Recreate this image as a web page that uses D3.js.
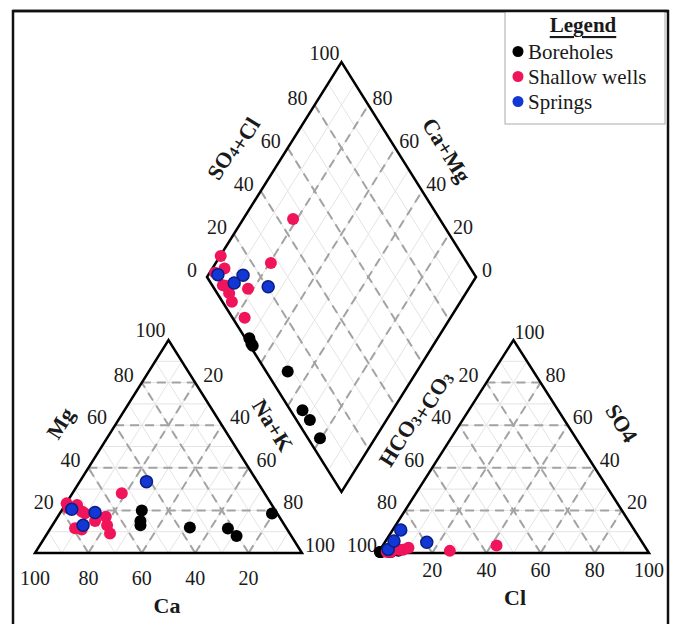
<!DOCTYPE html>
<html>
<head>
<meta charset="utf-8">
<script src="https://cdn.jsdelivr.net/npm/d3@7"></script>
<style>
body { margin: 0; background: #fff; }
svg { display: block; }
text { font-family: "Liberation Serif", "Times New Roman", serif; fill: #1a1a1a; }
</style>
</head>
<body>
<svg id="piper"></svg>
<script>
// groups and colours
var groups = ["Boreholes", "Shallow wells", "Springs"];
var colors = ["#000000", "#f0145a", "#1237d3"];

// cations (% meq)
var boreholesCa  = [50, 53, 54, 36, 22, 20.5, 2];
var boreholesMg  = [20, 15, 13, 12, 11.5, 8, 18.5];
var boreholesNaK = [30, 32, 33, 52, 66.5, 71.5, 79.5];
// anions (% meq)
var boreholesSO4 = [0.5, 0.5, 0.5, 1, 0.5, 0.5, 0.5];
var boreholesCl  = [1, 0.5, 0.5, 7, 4, 4.5, 4];

var shallowCa  = [76.5, 77, 73, 72.7, 72, 79.2, 77, 70, 65, 53.5, 66.5, 67.3];
var shallowMg  = [23.3, 21, 22.5, 19.5, 18.6, 11.6, 11, 15, 17, 28, 13, 9.2];
var shallowNaK = [0.2, 2, 4.5, 7.8, 9.4, 9.2, 12, 15, 18, 18.5, 20.5, 23.5];
var shallowSO4 = [1.5, 1, 1.5, 1, 1, 0.5, 1, 0.5, 2.5, 3.5, 1, 1];
var shallowCl  = [8.5, 3, 7, 3, 4, 4.5, 3.5, 3, 10, 42, 26, 3.5];

var springsCa  = [41.5, 76, 68, 75.5];
var springsMg  = [33.5, 20.5, 19, 13];
var springsNaK = [25, 3.5, 13, 11.5];
var springsSO4 = [5, 1.7, 10.8, 5.6];
var springsCl  = [15.5, 2.9, 3, 3.1];

var sideTicks = [20, 40, 60, 80, 100];
var caTicks = [100, 80, 60, 40, 20];
var clTicks = [20, 40, 60, 80, 100];
var diamondLeftTicks = [0, 20, 40, 60, 80, 100];
var diamondRightTicks = [0, 20, 40, 60, 80];

(function(fn) {
    if (document.readyState !== 'loading') {
        fn();
    } else {
        document.addEventListener('DOMContentLoaded', fn);
    }
})(function() {
    var WIDTH = 676;
    var HEIGHT = 624;

    var svg = d3.select("#piper")
        .attr("width", WIDTH)
        .attr("height", HEIGHT);

    // build the sample table from the arrays
    var samples = [];
    var src = [
        [boreholesCa, boreholesMg, boreholesNaK, boreholesSO4, boreholesCl],
        [shallowCa, shallowMg, shallowNaK, shallowSO4, shallowCl],
        [springsCa, springsMg, springsNaK, springsSO4, springsCl]
    ];
    src.forEach(function(s, g) {
        for (var i = 0; i < s[0].length; i++) {
            samples.push({
                group: g,
                ca: s[0][i], mg: s[1][i], nak: s[2][i],
                so4: s[3][i], cl: s[4][i], hco3: 100 - s[3][i] - s[4][i]
            });
        }
    });

    // scales
    var catX = d3.scaleLinear().domain([0, 100]).range([35, 302]);
    var catY = d3.scaleLinear().domain([0, 100]).range([553, 340]);
    var anX = d3.scaleLinear().domain([0, 100]).range([378, 649]);
    var anY = d3.scaleLinear().domain([0, 100]).range([553, 340]);
    var dX = d3.scaleLinear().domain([0, 200]).range([207, 476]);
    var dY = d3.scaleLinear().domain([-100, 100]).range([62, 492]);

    function catPt(mg, nak) { return [catX(nak + mg / 2), catY(mg)]; }
    function anPt(so4, cl) { return [anX(cl + so4 / 2), anY(so4)]; }
    function dPt(nak, sc) { return [dX(nak + sc), dY(nak - sc)]; }

    var line = d3.line();

    // frame
    svg.append("rect")
        .attr("x", 13).attr("y", 11)
        .attr("width", 655).attr("height", 640)
        .attr("fill", "none")
        .attr("stroke", "#111")
        .attr("stroke-width", 2.5);

    function triLines(pt, vals) {
        var out = [];
        vals.forEach(function(v) {
            out.push([pt(v, 0), pt(v, 100 - v)]);
            out.push([pt(0, v), pt(100 - v, v)]);
            out.push([pt(0, 100 - v), pt(100 - v, 0)]);
        });
        return out;
    }
    function diaLines(vals) {
        var out = [];
        vals.forEach(function(v) {
            out.push([dPt(0, v), dPt(100, v)]);
            out.push([dPt(v, 0), dPt(v, 100)]);
        });
        return out;
    }

    var fine = d3.range(10, 100, 10);
    var coarse = [20, 40, 60, 80];
    var g = svg.append("g");

    var fineLines = triLines(catPt, fine).concat(triLines(anPt, fine), diaLines(fine));
    g.selectAll("path.fine")
        .data(fineLines)
        .enter()
        .append("path")
        .attr("class", "fine")
        .attr("d", line)
        .attr("stroke", "#e4e4e4")
        .attr("stroke-width", 1)
        .attr("fill", "none");

    var dashLines = triLines(catPt, coarse).concat(triLines(anPt, coarse), diaLines(coarse));
    g.selectAll("path.dash")
        .data(dashLines)
        .enter()
        .append("path")
        .attr("class", "dash")
        .attr("d", line)
        .attr("stroke", "#a3a3a3")
        .attr("stroke-width", 2)
        .attr("stroke-dasharray", "9,6")
        .attr("fill", "none");

    // outlines
    var outlines = [
        [catPt(0, 0), catPt(0, 100), catPt(100, 0)],
        [anPt(0, 0), anPt(0, 100), anPt(100, 0)],
        [dPt(0, 0), dPt(100, 0), dPt(100, 100), dPt(0, 100)]
    ];
    g.selectAll("path.outline")
        .data(outlines)
        .enter()
        .append("path")
        .attr("class", "outline")
        .attr("d", function(d) { return line(d) + "Z"; })
        .attr("stroke", "#000")
        .attr("stroke-width", 2.5)
        .attr("stroke-linejoin", "miter")
        .attr("fill", "none");

    // tick labels (under the points, the corner ones get covered)
    var labels = [];
    sideTicks.forEach(function(v) {
        var p = catPt(v, 0);
        labels.push({ t: v, x: p[0] - (v == 100 ? 3 : 8), y: p[1] - (v == 100 ? 10 : 8), a: "end" });
        p = catPt(100 - v, v);
        labels.push({ t: v, x: p[0] + (v == 100 ? 3 : 8), y: p[1] - 8, a: "start" });
        p = anPt(100 - v, 0);
        labels.push({ t: v, x: p[0] - (v == 100 ? 1 : 8), y: p[1] - 8, a: "end" });
        p = anPt(v, 100 - v);
        labels.push({ t: v, x: p[0] + (v == 100 ? 1 : 5), y: p[1] - 8, a: "start" });
    });
    caTicks.forEach(function(v) {
        labels.push({ t: v, x: catX(100 - v), y: 578, a: "middle" });
    });
    clTicks.forEach(function(v) {
        labels.push({ t: v, x: anX(v), y: 570, a: "middle" });
    });
    diamondLeftTicks.forEach(function(v) {
        var p = dPt(0, v);
        var dx = v == 0 ? 10 : (v == 100 ? 2 : 7);
        labels.push({ t: v, x: p[0] - dx, y: p[1] - (v == 100 ? 9 : 7), a: "end" });
    });
    diamondRightTicks.forEach(function(v) {
        var p = dPt(100 - v, 100);
        labels.push({ t: v, x: p[0] + (v == 0 ? 6 : 4), y: p[1] - 7, a: "start" });
    });

    svg.selectAll("text.tick")
        .data(labels)
        .enter()
        .append("text")
        .attr("class", "tick")
        .attr("x", function(d) { return d.x; })
        .attr("y", function(d) { return d.y; })
        .attr("text-anchor", function(d) { return d.a; })
        .attr("dominant-baseline", "central")
        .style("font-size", "20px")
        .text(function(d) { return d.t; });

    // points
    var pg = svg.append("g");
    function drawPoints(cls, pos) {
        pg.selectAll("circle." + cls)
            .data(samples)
            .enter()
            .append("circle")
            .attr("class", cls)
            .attr("cx", function(d) { return pos(d)[0]; })
            .attr("cy", function(d) { return pos(d)[1]; })
            .attr("r", 6)
            .attr("fill", function(d) { return colors[d.group]; })
            .attr("stroke", function(d) { return d.group == 2 ? "#0b1d86" : "none"; })
            .attr("stroke-width", 1.5);
    }
    drawPoints("cat", function(d) { return catPt(d.mg, d.nak); });
    drawPoints("an", function(d) { return anPt(d.so4, d.cl); });
    drawPoints("dia", function(d) { return dPt(d.nak, d.so4 + d.cl); });

    // axis titles
    function title(x, y, rot, parts) {
        var t = svg.append("text")
            .attr("transform", "translate(" + x + "," + y + ") rotate(" + rot + ")")
            .attr("text-anchor", "middle")
            .attr("dominant-baseline", "central")
            .style("font-size", "22px")
            .style("font-weight", "bold");
        parts.forEach(function(p) {
            if (p[1]) {
                t.append("tspan").attr("dy", 5).style("font-size", "15px").text(p[0]);
                t.append("tspan").attr("dy", -5).text("");
            } else {
                t.append("tspan").text(p[0]);
            }
        });
    }
    title(60, 423, -58, [["Mg"]]);
    title(273, 425, 58, [["Na+K"]]);
    title(167, 605, 0, [["Ca"]]);
    title(515, 597, 0, [["Cl"]]);
    title(622, 423, 58, [["SO4"]]);
    title(413, 417, -58, [["HCO"], ["3", true], ["+CO"], ["3", true]]);
    title(231, 147, -58, [["SO"], ["4", true], ["+Cl"]]);
    title(447, 150, 58, [["Ca+Mg"]]);

    // legend
    var lg = svg.append("g");
    lg.append("rect")
        .attr("x", 505).attr("y", 11)
        .attr("width", 160).attr("height", 113)
        .attr("fill", "#fff")
        .attr("stroke", "#aaa")
        .attr("stroke-width", 1);
    lg.append("line")
        .attr("x1", 13).attr("x2", 668)
        .attr("y1", 11).attr("y2", 11)
        .attr("stroke", "#111")
        .attr("stroke-width", 2.5);
    lg.append("text")
        .attr("x", 583).attr("y", 25)
        .attr("text-anchor", "middle")
        .attr("dominant-baseline", "central")
        .style("font-size", "21px")
        .style("font-weight", "bold")
        .style("text-decoration", "underline")
        .text("Legend");
    var items = lg.selectAll("g.item")
        .data(groups)
        .enter()
        .append("g")
        .attr("class", "item")
        .attr("transform", function(d, i) { return "translate(0," + (51.5 + i * 25) + ")"; });
    items.append("circle")
        .attr("cx", 518).attr("cy", 0).attr("r", 5.5)
        .attr("fill", function(d, i) { return colors[i]; });
    items.append("text")
        .attr("x", 528).attr("y", 0)
        .attr("dominant-baseline", "central")
        .style("font-size", "21px")
        .text(function(d) { return d; });
});
</script>
</body>
</html>
